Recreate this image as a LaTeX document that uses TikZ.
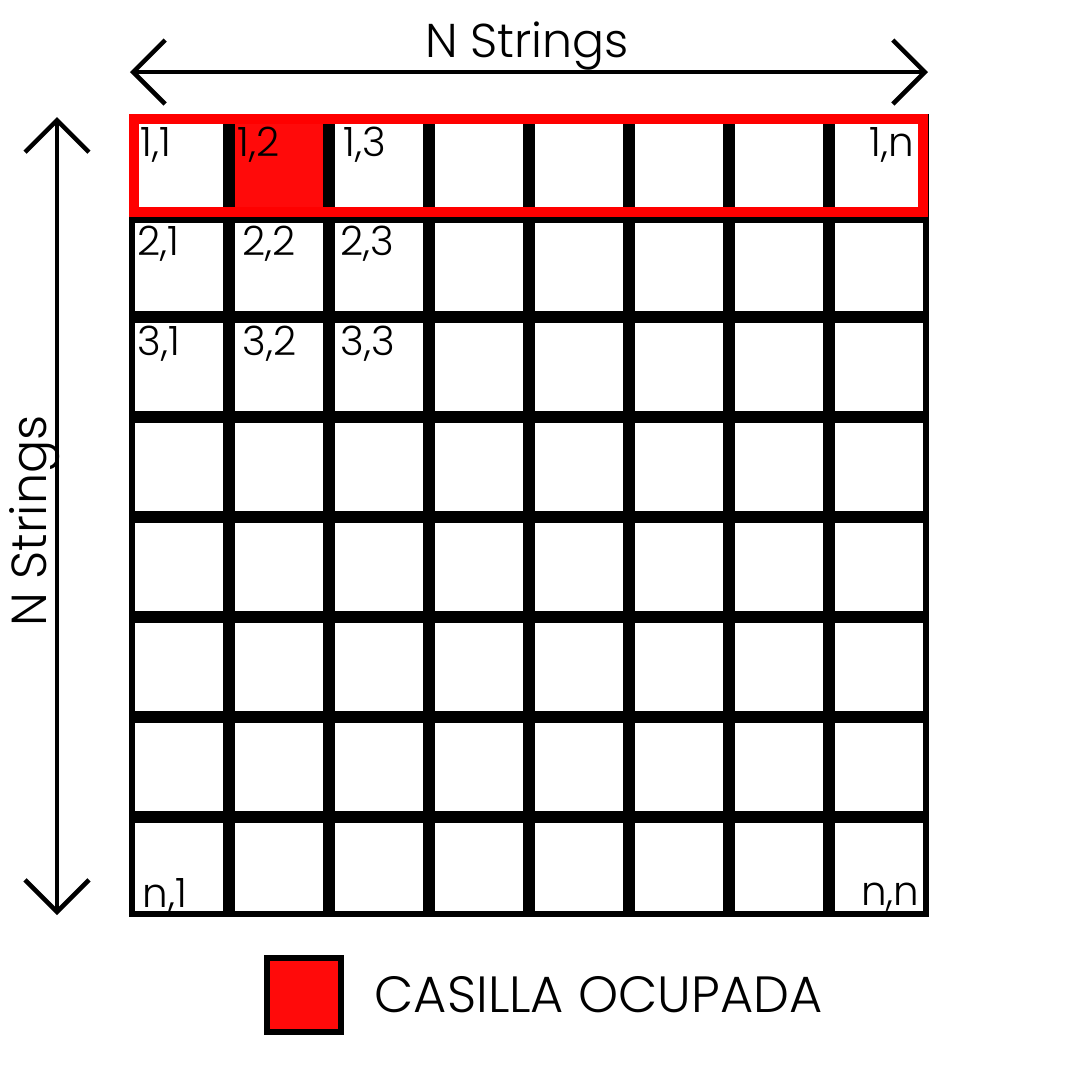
\documentclass[tikz,border=0pt]{standalone}
\usepackage{fontspec}
\setmainfont{Poppins}[UprightFont=* Light]
\usetikzlibrary{arrows.meta,positioning}

\definecolor{ocupada}{RGB}{255,10,10}
\definecolor{marco}{RGB}{255,0,0}

\tikzset{
    gridline/.style={line width=1.2mm},
    dimarrow/.style={line width=0.45mm, {Straight Barb[length=3.2mm,width=6.4mm]}-{Straight Barb[length=3.2mm,width=6.4mm]}},
    cell/.style={inner sep=0pt, font=\fontsize{11.5}{12}\selectfont},
    legendbox/.style={draw, line width=0.6mm, fill=ocupada, minimum size=7.4mm, inner sep=0pt},
}

\begin{document}
\begin{tikzpicture}[x=0.1mm, y=-0.1mm]
    \useasboundingbox (0,0) rectangle (1080,1080);
    \fill[ocupada] (229,117) rectangle (329,217);
    \foreach \k in {0,...,6} {
        \draw[gridline] (229+100*\k,117) -- (229+100*\k,914);
        \draw[gridline] (132,217+100*\k) -- (926,217+100*\k);
    }
    \draw[line width=0.6mm] (132,117) rectangle (926,914);
    \draw[marco, line width=1mm] (134,119) rectangle (923,212);

    \node[cell, anchor=base west] (c11) at (140,156) {1,1};
    \node[cell, anchor=base west] (c12) at (237,156) {1,2};
    \node[cell, anchor=base west] (c13) at (343,156) {1,3};
    \node[cell, anchor=base east] (c1n) at (915,156) {1,n};
    \foreach \r/\y in {2/255,3/355} {
        \node[cell, anchor=base west] (c\r1) at (137,\y) {\r,1};
        \node[cell, anchor=base west] (c\r2) at (242,\y) {\r,2};
        \node[cell, anchor=base west] (c\r3) at (340,\y) {\r,3};
    }
    \node[cell, anchor=base west] (cn1) at (142,907) {n,1};
    \node[cell, anchor=base east] (cnn) at (920,905) {n,n};

    \coordinate (topl) at (130,72);
    \coordinate (topr) at (928,72);
    \coordinate (lefttop) at (57,117);
    \coordinate (leftbot) at (57,915);
    \draw[dimarrow] (topl) -- (topr);
    \draw[dimarrow] (lefttop) -- (leftbot);
    \node[font=\fontsize{13.5}{14}\selectfont, anchor=base] (ntop) at (527,57) {N Strings};
    \node[font=\fontsize{14}{15}\selectfont, rotate=90, anchor=base] (nleft) at (47,521) {N Strings};

    \node[legendbox] (key) at (304,995) {};
    \node[font=\fontsize{14.5}{15}\selectfont, inner sep=0pt, right=3mm of key] (keytext) {CASILLA OCUPADA};
\end{tikzpicture}
\end{document}
